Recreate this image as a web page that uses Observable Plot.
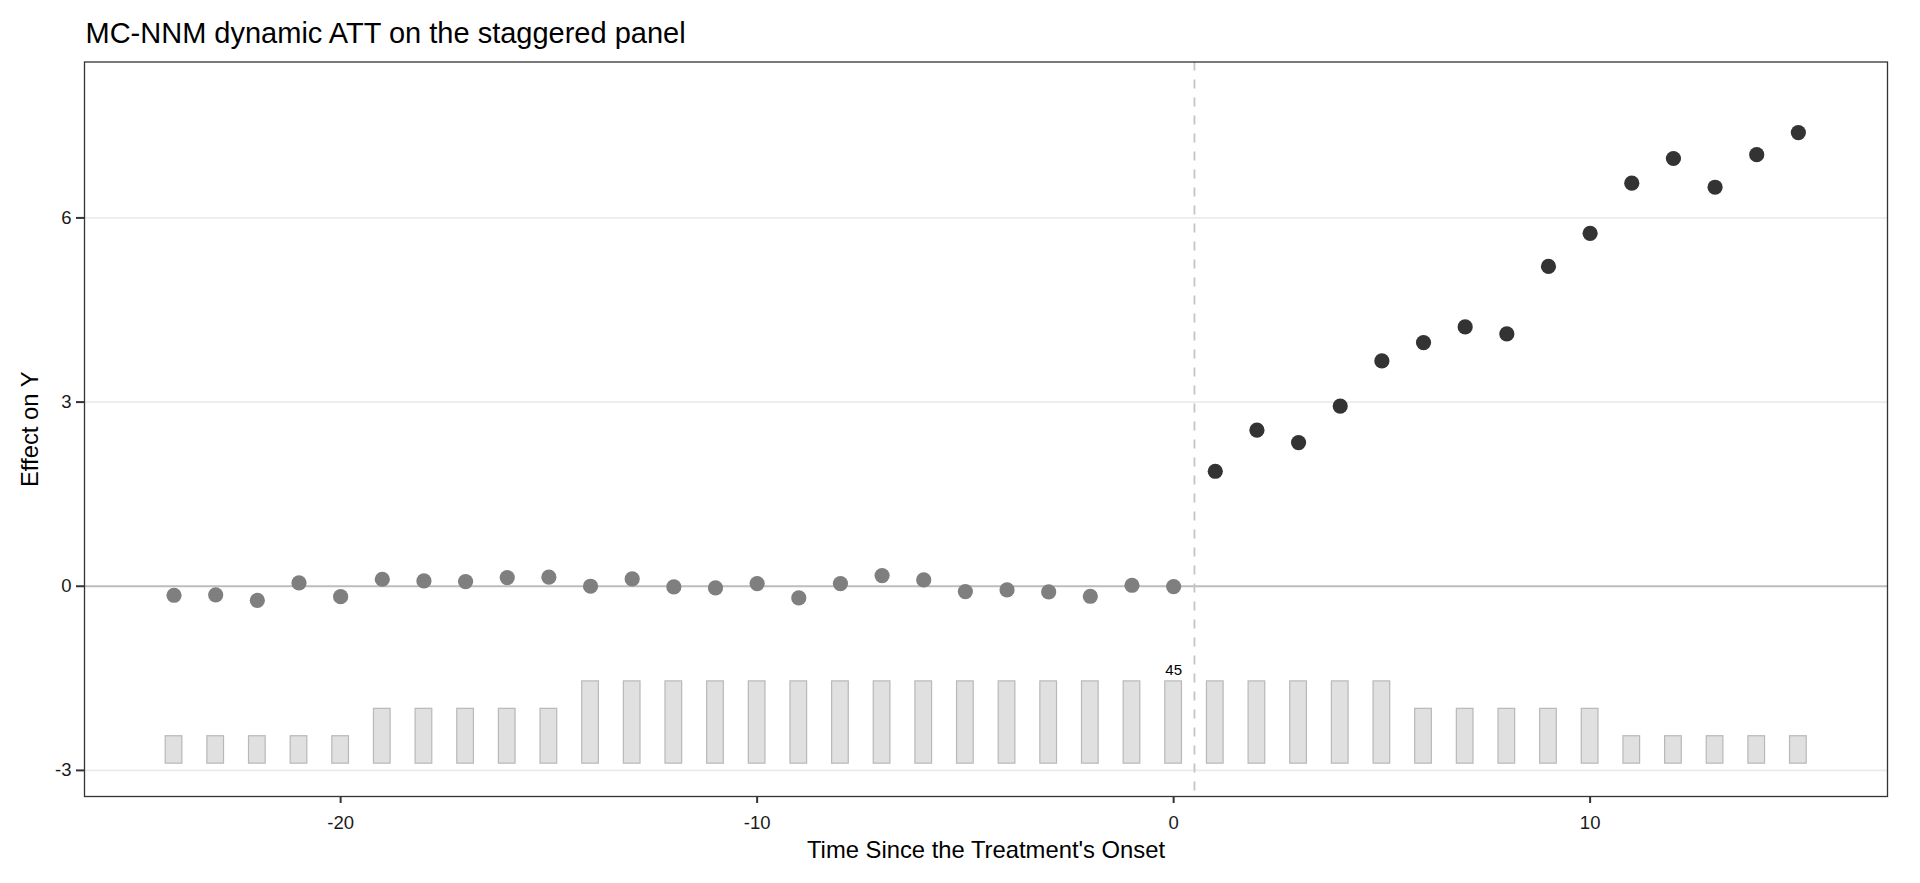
<!DOCTYPE html>
<html>
<head>
<meta charset="utf-8">
<script src="https://cdn.jsdelivr.net/npm/d3@7"></script>
<script src="https://cdn.jsdelivr.net/npm/@observablehq/plot@0.6"></script>
<style>
  html, body { margin: 0; padding: 0; background: #fff; }
  #chart svg { display: block; }
</style>
</head>
<body>
<div id="chart"></div>
<script>
// ---- data ----
const time = [-24,-23,-22,-21,-20,-19,-18,-17,-16,-15,-14,-13,-12,-11,-10,-9,-8,-7,-6,-5,-4,-3,-2,-1,0,
              1,2,3,4,5,6,7,8,9,10,11,12,13,14,15];
const att = [-0.147,-0.14,-0.23,0.054,-0.17,0.114,0.087,0.076,0.141,0.147,0.0,0.119,-0.011,-0.027,0.043,
             -0.19,0.043,0.174,0.103,-0.087,-0.06,-0.092,-0.163,0.016,-0.005,
             1.873,2.543,2.341,2.935,3.67,3.969,4.225,4.11,5.21,5.749,6.566,6.968,6.50,7.03,7.39];
const count = [15,15,15,15,15,30,30,30,30,30,
               45,45,45,45,45,45,45,45,45,45,45,45,45,45,45,45,45,45,45,45,
               30,30,30,30,30,15,15,15,15,15];
const xTicks = [-20,-10,0,10];
const yTicks = [-3,0,3,6];
const gridY = [-3,3,6];
const title = "MC-NNM dynamic ATT on the staggered panel";
const xLabel = "Time Since the Treatment's Onset";
const yLabel = "Effect on Y";
const maxCountLabel = [{t: 0, n: 45}];

// bar histogram geometry (in y units): base and height of the tallest bar
const barBase = -2.89, barMaxH = 1.34, barHalfW = 0.2;
const maxCount = d3.max(count);

const rows = time.map((t, i) => ({t, att: att[i], n: count[i], post: t > 0}));

const font = "Liberation Sans, Arial, Helvetica, sans-serif";

const plot = Plot.plot({
  width: 1920,
  height: 883,
  marginLeft: 84,
  marginRight: 33,
  marginTop: 61.5,
  marginBottom: 87,
  style: {fontFamily: font, background: "#fff", color: "#1a1a1a"},
  x: {domain: [-26.15, 17.14], ticks: xTicks},
  y: {domain: [-3.425, 8.54], ticks: yTicks},
  marks: [
    Plot.ruleY(gridY, {stroke: "#ebebeb", strokeWidth: 1.8}),
    Plot.ruleY([0], {stroke: "#bdbdbd", strokeWidth: 2}),
    Plot.ruleX([0.5], {stroke: "#c4c4c4", strokeWidth: 1.8, strokeDasharray: "9,9"}),
    Plot.rect(rows, {
      x1: d => d.t - barHalfW,
      x2: d => d.t + barHalfW,
      y1: barBase,
      y2: d => barBase + d.n / maxCount * barMaxH,
      fill: "#e0e0e0",
      stroke: "#b8b8b8",
      strokeWidth: 1.2
    }),
    Plot.text(maxCountLabel, {
      x: "t",
      y: d => barBase + d.n / maxCount * barMaxH,
      text: d => String(d.n),
      fontSize: 15,
      lineAnchor: "bottom",
      dy: -6,
      fill: "#000"
    }),
    Plot.dot(rows, {x: "t", y: "att", r: 7.6, fill: d => d.post ? "#333333" : "#7f7f7f", stroke: "none"}),
    Plot.frame({stroke: "#333", strokeWidth: 1.3}),
    Plot.axisX({ticks: xTicks, tickSize: 7, tickPadding: 12, fontSize: 18.5, label: null,
                stroke: "#333", strokeWidth: 2, tickFormat: d => String(d), fill: "#1a1a1a"}),
    Plot.axisY({ticks: yTicks, tickSize: 8, tickPadding: 5, fontSize: 18.5, label: null,
                stroke: "#333", strokeWidth: 2, tickFormat: d => String(d), fill: "#1a1a1a"}),
    Plot.text([xLabel], {frameAnchor: "bottom", text: d => d, fontSize: 23.8, textAnchor: "middle", lineAnchor: "bottom", dy: 61, fill: "#000"}),
    Plot.text([yLabel], {frameAnchor: "left", text: d => d, fontSize: 23.8, rotate: -90, textAnchor: "middle", lineAnchor: "middle", dx: -54, fill: "#000"}),
    Plot.text([title], {frameAnchor: "top-left", text: d => d, fontSize: 29, textAnchor: "start", lineAnchor: "bottom", dx: 1, dy: -18.8, fill: "#000"})
  ]
});
document.getElementById("chart").appendChild(plot);
</script>
</body>
</html>
